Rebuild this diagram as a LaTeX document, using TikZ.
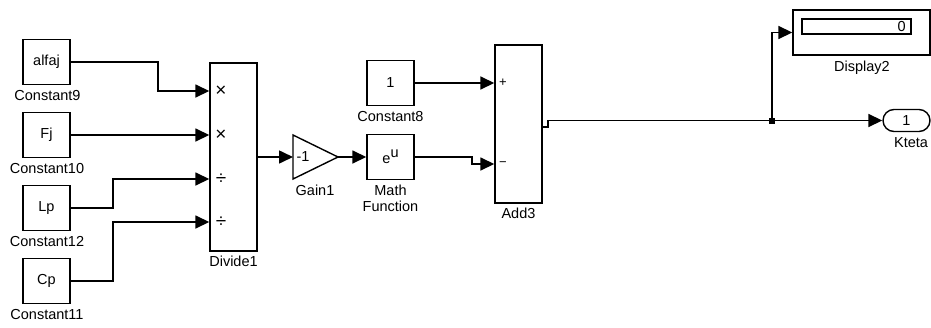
\documentclass[tikz,border=0pt]{standalone}
\usepackage{fontspec}
\setmainfont{Liberation Sans}
\usetikzlibrary{arrows.meta}
\begin{document}
\begin{tikzpicture}[x=1pt,y=-1pt,
  every node/.style={font=\fontsize{14.5}{16}\selectfont},
  blk/.style={draw, line width=1.4pt, inner sep=0pt, minimum width=47pt, minimum height=45pt},
  lbl/.style={inner sep=0pt, anchor=base},
  sgn/.style={inner sep=0pt, font=\fontsize{19}{20}\selectfont},
  ln/.style={line width=1.6pt},
  wire/.style={line width=1.6pt, -{Triangle[length=14pt,width=13pt]}}]
\useasboundingbox (0,0) rectangle (931,327);

% source constants
\node[blk] (c9) at (46.5,62) {alfaj};
\node[lbl] (c9l) at (47.5,100) {Constant9};
\node[blk] (c10) at (46.5,135) {Fj};
\node[lbl] (c10l) at (47,173) {Constant10};
\node[blk] (c12) at (46.5,208) {Lp};
\node[lbl] (c12l) at (47,246) {Constant12};
\node[blk] (c11) at (46.5,281) {Cp};
\node[lbl] (c11l) at (47,319) {Constant11};

% divide
\node[blk, minimum height=188pt] (div) at (233.5,157) {};
\node[lbl] (divl) at (233.5,266) {Divide1};
\node[sgn] (s1) at (221,91) {×};
\node[sgn] (s2) at (221,135) {×};
\node[sgn] (s3) at (221,179) {÷};
\node[sgn] (s4) at (221,222) {÷};

% gain
\coordinate (gin) at (293,157);
\coordinate (gout) at (338,157);
\draw[line width=1.4pt] (293,135) -- (gout) -- (293,179) -- cycle;
\node (gtxt) at (303,157) {-1};
\node[lbl] (gl) at (315,195) {Gain1};

% math function
\node[blk] (mf) at (390.5,157) {e\raisebox{6pt}{u}};
\node[lbl] (mfl1) at (390.5,195) {Math};
\node[lbl] (mfl2) at (390.5,211) {Function};

% constant 8
\node[blk] (c8) at (390.5,83) {1};
\node[lbl] (c8l) at (390.5,121) {Constant8};

% add
\node[blk, minimum height=158pt] (add) at (518.5,124) {};
\node[lbl] (addl) at (518.5,218) {Add3};
\node[sgn, font=\fontsize{13}{14}\selectfont] (ap) at (503,83) {+};
\node[sgn, font=\fontsize{13}{14}\selectfont] (am) at (503,164) {−};

% display
\node[blk, minimum width=137pt, minimum height=45pt] (disp) at (861.5,32.5) {};
\node[draw, line width=1.2pt, inner sep=0pt, minimum width=109pt, minimum height=15pt] (dbox) at (856.5,26.5) {};
\node[anchor=east, inner sep=0pt] (dval) at (906,26.5) {0};
\node[lbl] (dl) at (862,71) {Display2};

% outport
\node[draw, line width=1.4pt, rounded corners=11pt, inner sep=0pt, minimum width=47pt, minimum height=22pt] (kt) at (906.5,120.5) {1};
\node[lbl] (ktl) at (911,147) {Kteta};

\coordinate (br) at (772,120.5);

% wires
\draw[wire] (c9.east) -- (158,62) |- (div.west |- 0,91);
\draw[wire] (c10.east) -- (div.west |- c10.east);
\draw[wire] (c12.east) -- (113,208) |- (div.west |- 0,179);
\draw[wire] (c11.east) -- (113,281) |- (div.west |- 0,222);
\draw[wire] (div.east) -- (gin);
\draw[wire] (gout) -- (mf.west);
\draw[wire] (c8.east) -- (add.west |- c8.east);
\draw[wire] (mf.east) -- (472,157) |- (add.west |- 0,164);
\draw[ln] (add.east |- 0,127) -- (548,127) |- (br);
\draw[wire] (br) -- (kt.west);
\draw[wire] (br) |- (disp.west);
\fill (br) +(-3,-3) rectangle +(3,3);
\end{tikzpicture}
\end{document}
